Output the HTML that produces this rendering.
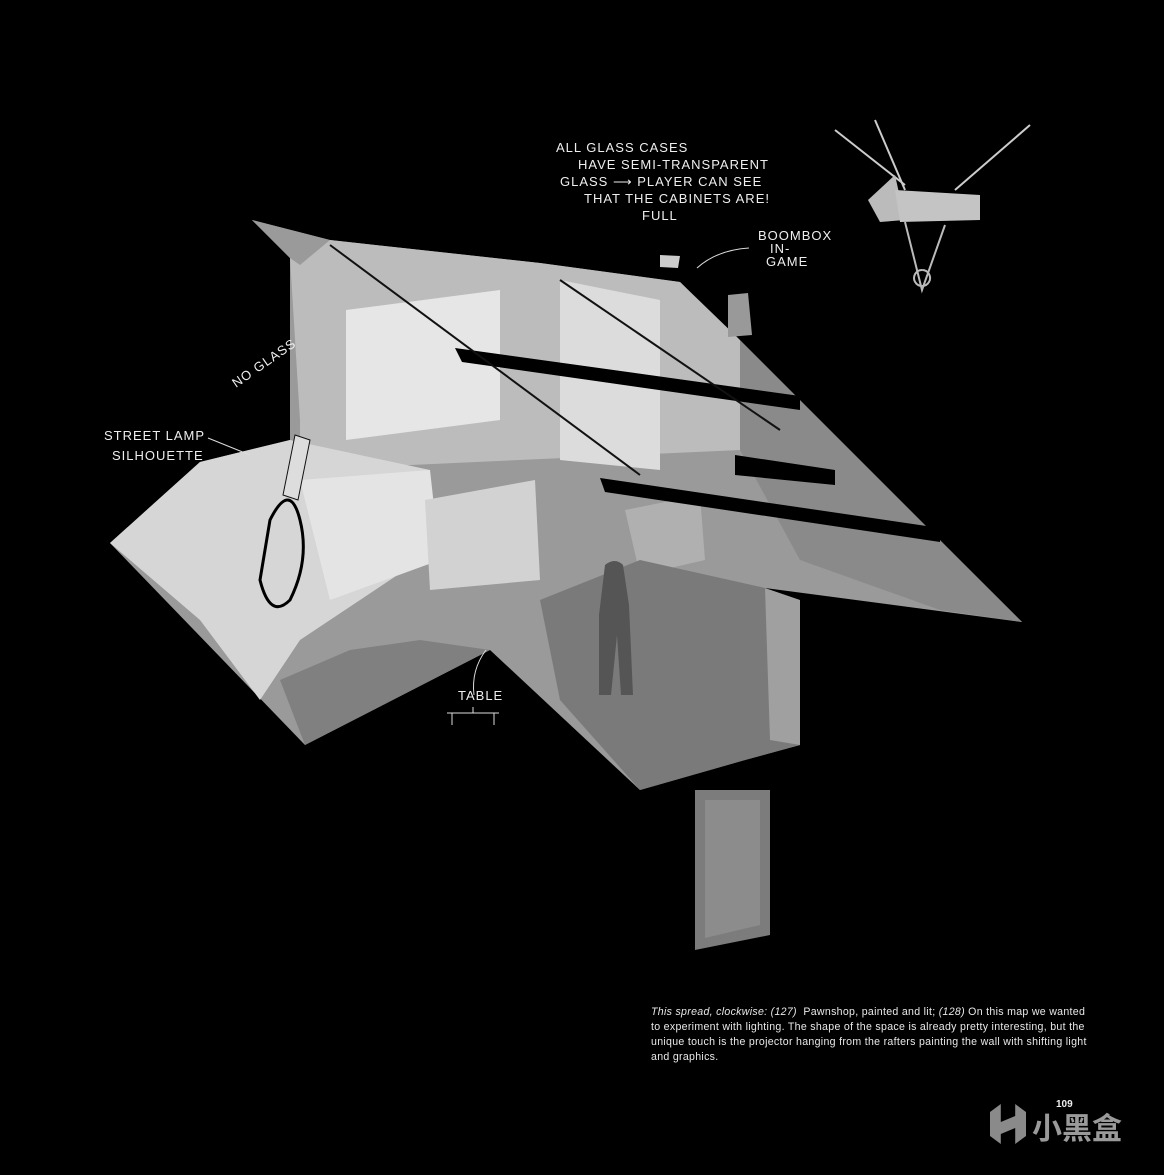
<!DOCTYPE html>
<html><head><meta charset="utf-8"><style>
html,body{margin:0;padding:0;background:#000;}
body{width:1164px;height:1175px;position:relative;overflow:hidden;font-family:"Liberation Sans",sans-serif;}
.cap{position:absolute;left:651px;top:1005px;color:#e8e8e8;font-size:10.6px;line-height:15px;white-space:nowrap;letter-spacing:0.3px;}
.hw{font-family:"Liberation Sans",sans-serif;fill:#eee;font-size:13px;letter-spacing:1px;}
</style></head><body>
<svg width="1164" height="1175" style="position:absolute;left:0;top:0">
<polygon points="252,220 330,240 540,263 680,282 1022,622 765,588 800,745 745,760 640,790 490,650 305,745 110,543 200,462 290,440 290,258" fill="#9a9a9a"/>
<polygon points="290,258 330,240 540,263 680,282 740,340 740,450 300,470 300,420" fill="#bcbcbc"/>
<polygon points="252,220 330,240 300,265 290,258" fill="#9a9a9a"/>
<polygon points="346,310 500,290 500,420 346,440" fill="#e6e6e6"/>
<polygon points="560,280 660,300 660,470 560,460" fill="#dcdcdc"/>
<polygon points="110,543 200,462 290,440 430,470 420,560 300,640 260,700 200,620" fill="#d6d6d6"/>
<polygon points="300,480 430,470 440,560 330,600" fill="#e4e4e4"/>
<polygon points="425,500 535,480 540,580 430,590" fill="#d2d2d2"/>
<polygon points="625,510 700,495 705,560 640,575" fill="#b0b0b0"/>
<polygon points="690,290 1022,622 940,610 800,560 740,450 740,340" fill="#8a8a8a"/>
<polygon points="540,600 640,560 765,588 800,745 745,760 640,790 560,700" fill="#7a7a7a"/>
<polygon points="305,745 280,680 350,650 420,640 490,650" fill="#808080"/>
<path d="M605,565 q10,-8 18,0 l6,40 l4,90 h-12 l-4,-60 l-6,60 h-12 l0,-80 z" fill="#555"/>
<polygon points="695,790 770,790 770,935 695,950" fill="#7c7c7c"/>
<polygon points="705,800 760,800 760,925 705,938" fill="#8c8c8c"/>
<polygon points="765,588 800,600 800,745 770,740" fill="#a0a0a0"/>
<polygon points="455,348 462,362 800,410 800,396" fill="#000"/>
<polygon points="600,478 605,492 940,542 940,528" fill="#000"/>
<polygon points="735,455 835,470 835,485 735,475" fill="#000"/>
<line x1="330" y1="245" x2="640" y2="475" stroke="#111" stroke-width="2"/>
<line x1="560" y1="280" x2="780" y2="430" stroke="#111" stroke-width="2"/>
<path d="M295,435 l15,5 -12,60 -15,-5z" fill="#ddd" stroke="#111"/>
<path d="M270,520 q20,-40 30,0 q10,40 -10,80 q-20,20 -30,-20z" fill="none" stroke="#000" stroke-width="3"/>
<polygon points="660,255 680,256 678,268 660,267" fill="#ccc"/>
<polygon points="728,295 748,293 752,335 728,337" fill="#999"/>
<g stroke="#ccc" stroke-width="2" fill="none">
<line x1="835" y1="130" x2="905" y2="185"/>
<line x1="875" y1="120" x2="905" y2="190"/>
<line x1="1030" y1="125" x2="955" y2="190"/>
</g>
<polygon points="868,200 895,175 905,220 880,222" fill="#bbb"/>
<polygon points="895,190 980,195 980,220 900,222" fill="#c4c4c4"/>
<path d="M905,222 L922,290 L945,225 M922,270 a8,8 0 1,0 0.1,0" stroke="#bbb" stroke-width="2" fill="none"/>
<text class="hw" x="556" y="152">ALL GLASS CASES</text>
<text class="hw" x="578" y="169">HAVE SEMI-TRANSPARENT</text>
<text class="hw" x="560" y="186">GLASS ⟶ PLAYER CAN SEE</text>
<text class="hw" x="584" y="203">THAT THE CABINETS ARE!</text>
<text class="hw" x="642" y="220">FULL</text>
<text class="hw" x="758" y="240" font-size="11">BOOMBOX</text>
<text class="hw" x="770" y="253" font-size="11">IN-</text>
<text class="hw" x="766" y="266" font-size="11">GAME</text>
<path d="M697,268 q20,-18 52,-20" stroke="#ddd" fill="none"/>
<text class="hw" x="104" y="440">STREET LAMP</text>
<text class="hw" x="112" y="460">SILHOUETTE</text>
<line x1="208" y1="438" x2="250" y2="455" stroke="#ddd"/>
<text class="hw" x="236" y="388" transform="rotate(-35 236 388)" font-size="12">NO GLASS</text>
<text class="hw" x="458" y="700" font-size="9">TABLE</text>
<path d="M447,713 h52 M452,713 v12 M494,713 v12 M473,707 v6 M486,650 q-15,20 -12,45" stroke="#ddd" fill="none"/>
</svg>
<div class="cap"><i>This spread, clockwise: (127)</i>&nbsp; Pawnshop, painted and lit; <i>(128)</i> On this map we wanted<br>to experiment with lighting. The shape of the space is already pretty interesting, but the<br>unique touch is the projector hanging from the rafters painting the wall with shifting light<br>and graphics.</div>
<div style="position:absolute;left:1056px;top:1099px;color:#eee;font-size:10px;font-weight:bold">109</div>
<div style="position:absolute;left:990px;top:1104px;width:36px;height:40px;background:#8a8a8a;clip-path:polygon(0 20%,30% 0,30% 45%,70% 30%,70% 0,100% 20%,100% 80%,70% 100%,70% 60%,30% 75%,30% 100%,0 80%)"></div>
<div style="position:absolute;left:1032px;top:1104px;color:#9a9a9a;font-size:30px;font-weight:bold;font-family:'Liberation Sans','Noto Sans CJK SC',sans-serif">小黑盒</div>
</body></html>
